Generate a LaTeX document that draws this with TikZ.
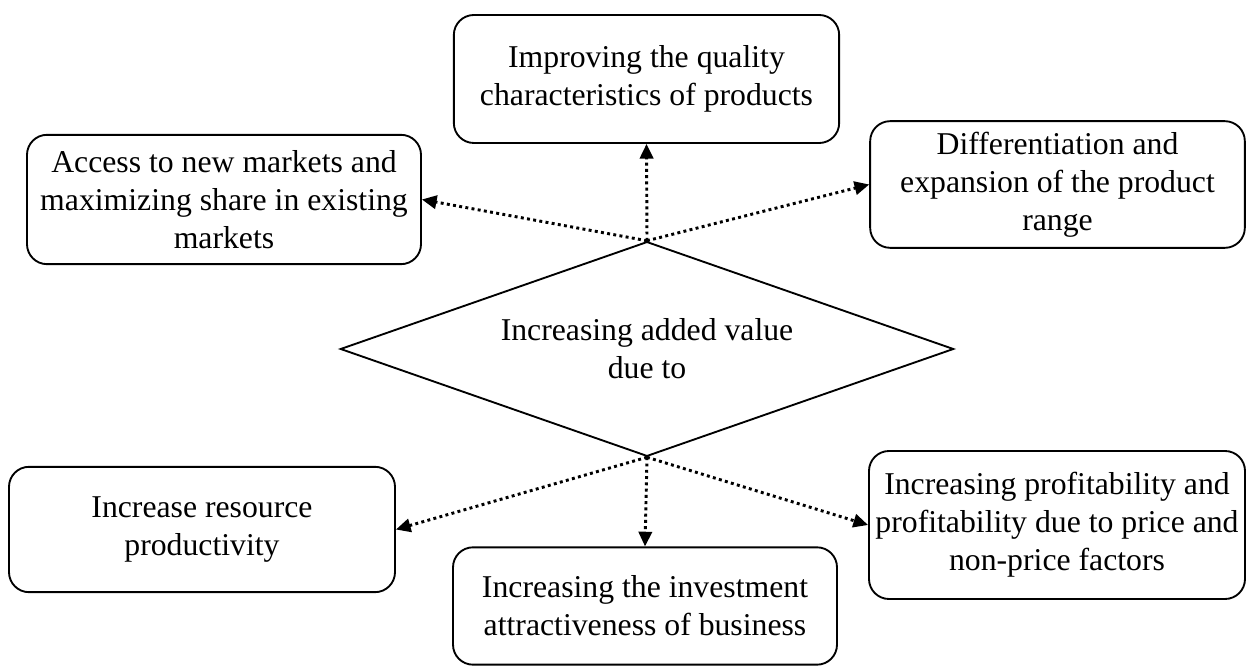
\documentclass[tikz,border=0pt]{standalone}
\usepackage{fontspec}
\setmainfont{Liberation Serif}
\usetikzlibrary{arrows.meta}
\usetikzlibrary{shapes.geometric}
\tikzstyle{block}=[draw=black, line width=1.4pt, rounded corners=15pt, align=center, inner sep=0pt, font=\fontsize{23.8}{28.5}\selectfont]
\tikzstyle{centre}=[diamond, draw=black, line width=1.4pt, aspect=2.85, inner sep=0pt, minimum width=460pt, minimum height=161pt, align=center, font=\fontsize{23.8}{28.5}\selectfont]
\tikzstyle{link}=[line width=2.2pt, dash pattern=on 2.2pt off 2.5pt, -{Triangle[length=11pt, width=10pt]}]

\begin{document}
\begin{tikzpicture}[x=0.75pt, y=-0.75pt]
    \useasboundingbox (0,0) rectangle (1246,666);

    \node[centre] (d) at (647,349) {Increasing added value\\due to};

    \node[block, minimum width=289pt, minimum height=96pt] (quality) at (646.5,79) {Improving the quality\\characteristics of products};
    \node[block, minimum width=295.5pt, minimum height=97pt] (markets) at (224,199.5) {Access to new markets and\\maximizing share in existing\\markets};
    \node[block, minimum width=281pt, minimum height=95pt] (range) at (1057.5,184.5) {Differentiation and\\expansion of the product\\range};
    \node[block, minimum width=289.5pt, minimum height=94pt] (productivity) at (202,529.5) {Increase resource\\productivity};
    \node[block, minimum width=288pt, minimum height=88pt] (investment) at (645,606) {Increasing the investment\\attractiveness of business};
    \node[block, minimum width=282pt, minimum height=111pt] (profit) at (1057,525) {Increasing profitability and\\profitability due to price and\\non-price factors};

    \foreach \b/\a in {quality/south, markets/east, range/west}{
      \draw[link] (d.north) -- (\b.\a);
    }
    \foreach \b/\a in {productivity/east, investment/north, profit/west}{
      \draw[link] (d.south) -- (\b.\a);
    }

\end{tikzpicture}
\end{document}
